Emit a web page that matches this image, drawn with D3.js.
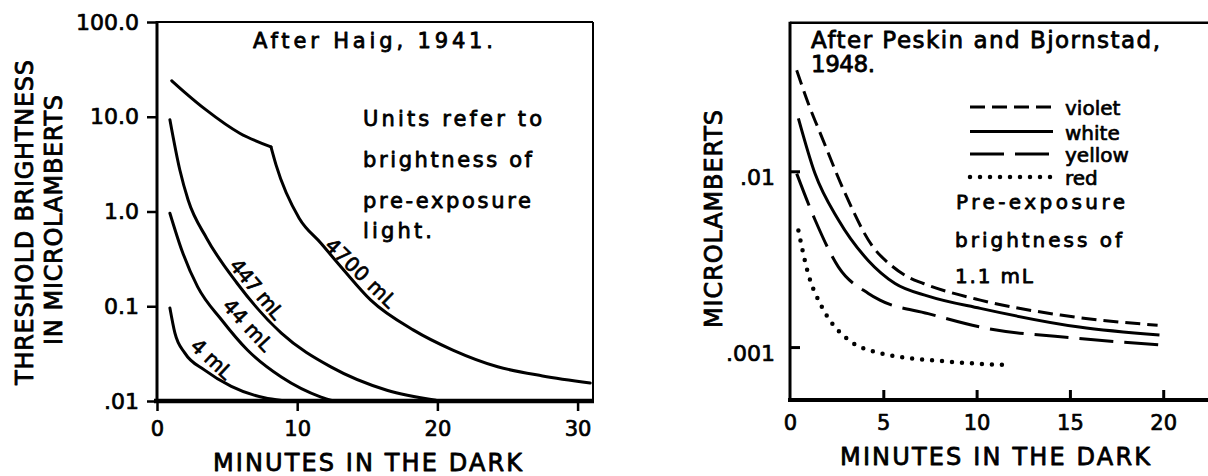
<!DOCTYPE html>
<html>
<head>
<meta charset="utf-8">
<script src="https://cdn.jsdelivr.net/npm/d3@7"></script>
<style>
  html, body { margin: 0; padding: 0; background: #fff; }
  svg { display: block; }
  text { font-family: "DejaVu Sans", sans-serif; fill: #000; }
</style>
</head>
<body>
<svg id="chart" width="1208" height="476"></svg>
<script>
// ---------- Left panel: dark adaptation after pre-exposure (Haig, 1941) ----------
const haigXTicks = [0, 10, 20, 30];
const haigYTicks = [100, 10, 1, 0.1, 0.01];
const haigYTickLabels = ["100.0", "10.0", "1.0", "0.1", ".01"];

// [minutes in the dark, threshold in microlamberts]
// the 4700 mL curve has a cone-rod break at about 8 minutes, kept as two pieces
const haig4700Cone = [[1.05, 24], [2, 18], [3.5, 11.8], [5.9, 6.7], [8.13, 4.8]];
const haig4700Rod = [[8.13, 4.8], [8.49, 3.1], [10.14, 0.85], [11.68, 0.465],
                     [13.33, 0.24], [15.25, 0.116], [18.3, 0.056], [21.1, 0.0345],
                     [24.3, 0.023], [27.5, 0.0184], [30.9, 0.0155]];
const haig447 = [[0.92, 9.3], [1.63, 2.74], [2.22, 1.32], [3.55, 0.52], [5.7, 0.176],
                 [8.87, 0.052], [12.4, 0.0229], [16.4, 0.013], [19.9, 0.0102]];
const haig44 = [[0.92, 0.96], [1.77, 0.39], [2.9, 0.16], [4.6, 0.072], [6.45, 0.0345],
                [8.87, 0.0179], [11.7, 0.011], [12.6, 0.0100]];
const haig4 = [[0.92, 0.096], [1.28, 0.052], [1.99, 0.032], [3.4, 0.0212], [5.3, 0.0143],
               [7.66, 0.0108], [8.9, 0.0101]];
const haigPaths = [haig4700Cone, haig4700Rod, haig447, haig44, haig4];
const haigSeriesNames = ["4700 mL", "447 mL", "44 mL", "4 mL"];

// ---------- Right panel: colour of pre-exposure light (Peskin and Bjornstad, 1948) ----------
const peskinXTicks = [0, 5, 10, 15, 20];
const peskinYTicks = [0.01, 0.001];
const peskinYTickLabels = [".01", ".001"];

const peskinViolet = [[0.36, 0.0375], [0.98, 0.0243], [1.7, 0.0157], [2.95, 0.0075], [4.38, 0.0038],
                      [5.45, 0.0029], [6.34, 0.0025], [7.15, 0.0023], [10.2, 0.00185],
                      [14.5, 0.00152], [19.7, 0.00133]];
const peskinWhite = [[0.45, 0.02], [1.34, 0.0097], [2.59, 0.0053], [4.2, 0.0031],
                     [5.63, 0.0023], [7.4, 0.00195], [10.2, 0.00166], [15.5, 0.0013], [19.8, 0.00117]];
const peskinYellow = [[0.36, 0.0097], [1.34, 0.0053], [2.59, 0.00286], [4.2, 0.00202],
                      [4.82, 0.00185], [7.4, 0.00155], [10.2, 0.0013], [15.5, 0.00112], [19.8, 0.00103]];
const peskinRed = [[0.45, 0.0046], [0.98, 0.0026], [1.7, 0.0017], [2.95, 0.00114], [4.9, 0.00092],
                   [8.3, 0.00083], [11.6, 0.00079]];
const peskinSeries = [peskinViolet, peskinWhite, peskinYellow, peskinRed];
const peskinSeriesNames = ["violet", "white", "yellow", "red"];

// ---------- drawing ----------
const svg = d3.select("#chart");
const ink = "#000";

function txt(g, s, x, y, size, opts = {}) {
  const t = g.append("text")
    .attr("x", x).attr("y", y)
    .attr("font-size", size)
    .attr("stroke", ink).attr("stroke-width", opts.sw ?? 0.8)
    .attr("stroke-linejoin", "round")
    .attr("text-anchor", opts.anchor || "start")
    .text(s);
  if (opts.len) t.attr("textLength", opts.len).attr("lengthAdjust", "spacing");
  if (opts.rotate !== undefined) t.attr("transform", `rotate(${opts.rotate},${x},${y})`);
  if (opts.baseline) t.attr("dominant-baseline", opts.baseline);
  return t;
}

function styleAxis(g, width, size) {
  g.select(".domain").remove();
  g.selectAll(".tick line").attr("stroke", ink).attr("stroke-width", width);
  g.selectAll(".tick text")
    .attr("font-family", "DejaVu Sans, sans-serif")
    .attr("font-size", size)
    .attr("fill", ink).attr("stroke", ink).attr("stroke-width", 0.7)
    .attr("stroke-linejoin", "round");
}

// ===== Left panel =====
const xL = d3.scaleLinear().domain([0, 31.1]).range([157, 593]);
const yL = d3.scaleLog().domain([0.01, 100]).range([401, 22]);
const left = svg.append("g");

// frame
left.append("line").attr("x1", xL(0)).attr("x2", xL(31.1)).attr("y1", yL(100)).attr("y2", yL(100))
  .attr("stroke", ink).attr("stroke-width", 2);
left.append("line").attr("x1", xL(31.1)).attr("x2", xL(31.1)).attr("y1", yL(100)).attr("y2", yL(0.01))
  .attr("stroke", ink).attr("stroke-width", 2);
left.append("line").attr("x1", xL(0)).attr("x2", xL(0)).attr("y1", yL(100) - 1).attr("y2", yL(0.01))
  .attr("stroke", ink).attr("stroke-width", 3);
left.append("line").attr("x1", xL(0) - 3).attr("x2", xL(31.1) + 1).attr("y1", yL(0.01)).attr("y2", yL(0.01))
  .attr("stroke", ink).attr("stroke-width", 4.5);

const axYL = left.append("g").attr("transform", `translate(${xL(0)},0)`)
  .call(d3.axisLeft(yL).tickValues(haigYTicks)
    .tickFormat((d, i) => haigYTickLabels[i]).tickSize(10).tickSizeOuter(0).tickPadding(8));
styleAxis(axYL, 2.5, 22);

const axXL = left.append("g").attr("transform", `translate(0,${yL(0.01)})`)
  .call(d3.axisBottom(xL).tickValues(haigXTicks).tickSize(10).tickSizeOuter(0).tickPadding(10));
styleAxis(axXL, 2.5, 21);

// curves
const lineL = d3.line().x(d => xL(d[0])).y(d => yL(d[1])).curve(d3.curveMonotoneX);
left.selectAll("path.haig").data(haigPaths).join("path")
  .attr("class", "haig")
  .attr("d", lineL)
  .attr("fill", "none").attr("stroke", ink).attr("stroke-width", 3)
  .attr("stroke-linejoin", "round").attr("stroke-linecap", "round");

// curve labels, set just above each curve and turned to follow it
const haigLabelPos = [
  { x: 361, y: 273, a: 44, len: 90 },
  { x: 257, y: 289, a: 50, len: 72 },
  { x: 248, y: 325, a: 47, len: 63 },
  { x: 212, y: 359, a: 43, len: 49 }
];
haigSeriesNames.forEach((name, i) => {
  const p = haigLabelPos[i];
  txt(left, name, p.x, p.y, 20, { anchor: "middle", rotate: p.a, len: p.len, baseline: "central", sw: 0.7 });
});

// annotations
txt(left, "After  Haig, 1941.", 253, 48, 21, { len: 240 });
txt(left, "Units refer to", 363, 126, 21, { len: 179 });
txt(left, "brightness of", 363, 167, 21, { len: 169 });
txt(left, "pre-exposure", 363, 208, 21, { len: 168 });
txt(left, "light.", 363, 238, 21, { len: 69 });

// axis titles
txt(left, "MINUTES IN THE DARK", 367.5, 471, 24, { anchor: "middle", len: 309 });
txt(left, "THRESHOLD BRIGHTNESS", 33, 222.5, 24, { anchor: "middle", rotate: -90, len: 325 });
txt(left, "IN MICROLAMBERTS", 61.5, 220, 24, { anchor: "middle", rotate: -90, len: 250 });

// ===== Right panel =====
const xR = d3.scaleLinear().domain([0, 22.4]).range([790, 1208]);
const yR = d3.scaleLog().domain([0.0005, 0.07]).range([400, 22.7]);
const right = svg.append("g");

right.append("line").attr("x1", xR(0)).attr("x2", 1208).attr("y1", yR(0.07)).attr("y2", yR(0.07))
  .attr("stroke", ink).attr("stroke-width", 2.5);
right.append("line").attr("x1", xR(0)).attr("x2", xR(0)).attr("y1", yR(0.07) - 1).attr("y2", yR(0.0005))
  .attr("stroke", ink).attr("stroke-width", 3);
right.append("line").attr("x1", xR(0) - 2).attr("x2", 1208).attr("y1", yR(0.0005)).attr("y2", yR(0.0005))
  .attr("stroke", ink).attr("stroke-width", 4);

const axYR = right.append("g").attr("transform", `translate(${xR(0)},0)`)
  .call(d3.axisLeft(yR).tickValues(peskinYTicks)
    .tickFormat((d, i) => peskinYTickLabels[i]).tickSizeInner(-10).tickSizeOuter(0).tickPadding(15));
styleAxis(axYR, 3, 22);
axYR.selectAll(".tick text").attr("dy", "0.6em");

const axXR = right.append("g").attr("transform", `translate(0,${yR(0.0005)})`)
  .call(d3.axisBottom(xR).tickValues(peskinXTicks).tickSizeInner(-10).tickSizeOuter(0).tickPadding(15));
styleAxis(axXR, 3, 21);
axXR.selectAll(".tick").filter(d => d === 0).select("line").remove();

const dashes = ["15,7", null, "34,11", "0,10"];
const widths = [3, 3, 3, 4.5];
const lineR = d3.line().x(d => xR(d[0])).y(d => yR(d[1])).curve(d3.curveMonotoneX);
right.selectAll("path.peskin").data(peskinSeries).join("path")
  .attr("class", "peskin")
  .attr("d", lineR)
  .attr("fill", "none").attr("stroke", ink)
  .attr("stroke-width", (d, i) => widths[i])
  .attr("stroke-dasharray", (d, i) => dashes[i])
  .attr("stroke-linecap", (d, i) => i === 3 ? "round" : "butt");

// legend
const legendY = [107, 131.5, 154, 177];
peskinSeriesNames.forEach((name, i) => {
  right.append("line")
    .attr("x1", 970).attr("x2", 1053).attr("y1", legendY[i]).attr("y2", legendY[i])
    .attr("stroke", ink).attr("stroke-width", widths[i])
    .attr("stroke-dasharray", dashes[i])
    .attr("stroke-linecap", i === 3 ? "round" : "butt");
  txt(right, name, 1065, legendY[i] + 8, 20, { sw: 0.7 });
});

// annotations
txt(right, "After  Peskin and Bjornstad,", 811, 48, 23, { len: 349 });
txt(right, "1948.", 811, 72, 23, { len: 64 });
txt(right, "Pre-exposure", 956, 209, 20, { len: 169 });
txt(right, "brightness of", 955, 246.5, 20, { len: 167 });
txt(right, "1.1 mL", 955, 283, 20, { len: 78 });

// axis titles
txt(right, "MINUTES IN THE DARK", 995, 465, 24, { anchor: "middle", len: 310 });
txt(right, "MICROLAMBERTS", 722, 219, 24, { anchor: "middle", rotate: -90, len: 218 });
</script>
</body>
</html>
